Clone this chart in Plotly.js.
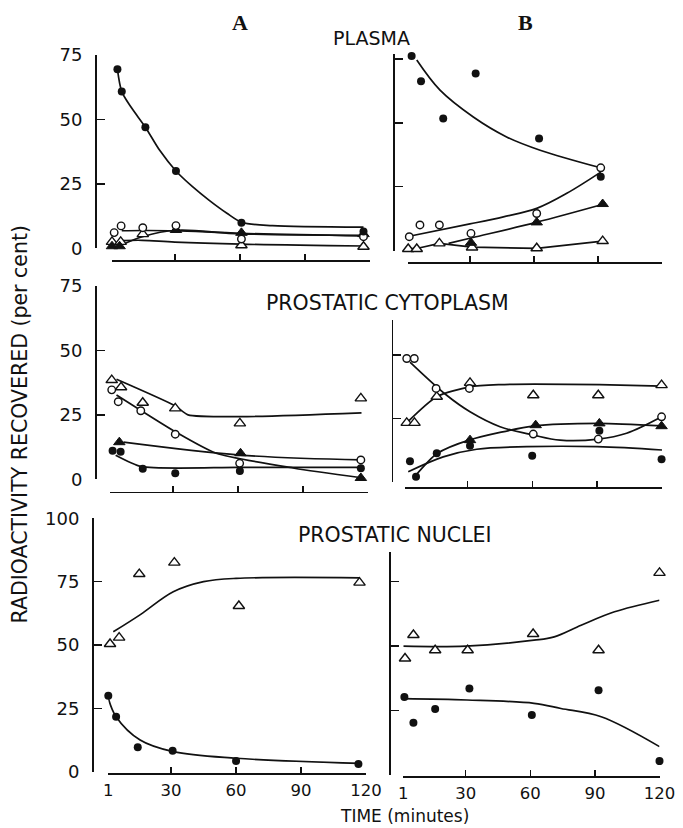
<!DOCTYPE html>
<html><head><meta charset="utf-8">
<script src="https://cdn.plot.ly/plotly-3.0.1.min.js"></script>
<style>html,body{margin:0;padding:0;background:#fff}#chart{width:683px;height:828px}</style>
</head><body><div id="chart"></div>
<script>
// ================= DATA =================
const timeTicks = [1, 30, 60, 90, 120];
const timeTickLabels = ['1', '30', '60', '90', '120'];
const yTicks75 = [0, 25, 50, 75];
const yTicks100 = [0, 25, 50, 75, 100];

// ---- A : PLASMA ----
const aPlasmaClosedCircleT = [3.5, 5.5, 16.4, 30.5, 60.7, 117];
const aPlasmaClosedCircleV = [69.5, 60.8, 47, 30, 9.9, 6.5];
const aPlasmaOpenCircleT = [2, 5.2, 15.2, 30.5, 60.7, 117];
const aPlasmaOpenCircleV = [6.1, 8.7, 8.0, 8.8, 3.6, 4.5];
const aPlasmaOpenTriT = [1, 5, 15.2, 60.7, 117];
const aPlasmaOpenTriV = [2.5, 2.5, 5.5, 1.2, 0.6];
const aPlasmaClosedTriT = [1, 4.5, 30.5, 60.7, 117];
const aPlasmaClosedTriV = [0.8, 0.8, 7.1, 6, 5.5];
const aPlasmaFitClosedCircleT = [3.5, 5.5, 10, 16.4, 23, 30.5, 38, 46, 54, 61, 75, 117];
const aPlasmaFitClosedCircleV = [69.5, 60.8, 54.5, 47, 38, 30, 24, 18.5, 13.6, 10, 8.8, 8.2];
const aPlasmaFitOpenCircleT = [5.5, 15, 30, 60.7, 117];
const aPlasmaFitOpenCircleV = [6.8, 6.9, 6.8, 5.8, 4.8];
const aPlasmaFitClosedTriT = [6, 15, 30.5, 60.7, 117];
const aPlasmaFitClosedTriV = [1.5, 4.5, 7, 5.6, 5];
const aPlasmaFitOpenTriT = [6, 15, 30, 60.7, 117];
const aPlasmaFitOpenTriV = [3, 3.1, 2.4, 1.6, 0.9];

// ---- A : PROSTATIC CYTOPLASM ----
const aCytoOpenTriT = [1.8, 6.1, 16.1, 31.1, 60.9, 116.7];
const aCytoOpenTriV = [38.5, 35.7, 29.7, 27.5, 21.7, 31.4];
const aCytoOpenCircleT = [1.8, 4.8, 15.2, 31.1, 60.8, 116.7];
const aCytoOpenCircleV = [34.7, 30.1, 26.6, 17.5, 6.2, 7.5];
const aCytoClosedTriT = [5.3, 61.2, 116.7];
const aCytoClosedTriV = [14.4, 10.1, 0.5];
const aCytoClosedCircleT = [2.2, 5.9, 16.1, 31.1, 60.9, 116.7];
const aCytoClosedCircleV = [11.1, 10.7, 4.1, 2.3, 3.2, 4.3];
const aCytoFitOpenTriT = [4, 31, 37, 61, 117];
const aCytoFitOpenTriV = [38.8, 28.5, 25, 24.3, 25.8];
const aCytoFitOpenCircleT = [4, 31, 50, 86, 117];
const aCytoFitOpenCircleV = [32.7, 18.5, 10.1, 4.3, 0.6];
const aCytoFitClosedTriT = [7.2, 61, 117];
const aCytoFitClosedTriV = [14.4, 9.4, 7.5];
const aCytoFitClosedCircleT = [3.6, 15.5, 60, 117];
const aCytoFitClosedCircleV = [9.3, 4.9, 4.6, 4.6];

// ---- A : PROSTATIC NUCLEI ----
const aNucOpenTriT = [1.8, 6, 15.3, 31.5, 61.3, 117];
const aNucOpenTriV = [50.4, 52.9, 78, 82.5, 65.4, 74.6];
const aNucClosedCircleT = [1, 4.6, 14.6, 30.7, 60, 116.5];
const aNucClosedCircleV = [30, 21.7, 9.6, 8.3, 4.2, 3.0];
const aNucFitOpenTriT = [3.3, 15.8, 31, 45, 60, 117];
const aNucFitOpenTriV = [55.2, 62, 71, 75, 76.3, 76.5];
const aNucFitClosedCircleT = [1, 4.6, 15.7, 31, 60, 117];
const aNucFitClosedCircleV = [29, 21.7, 12.5, 7.9, 5.3, 3.3];

// ---- B : PLASMA ----
const bPlasmaClosedCircleT = [2.7, 7.1, 17.5, 32.7, 62.4, 91.3];
const bPlasmaClosedCircleV = [76.2, 66.3, 51.7, 69.3, 43.9, 28.9];
const bPlasmaOpenCircleT = [1.6, 6.6, 15.7, 30.5, 61.3, 91.3];
const bPlasmaOpenCircleV = [5.4, 10, 10, 6.7, 14.5, 32.4];
const bPlasmaClosedTriT = [30.5, 61.3, 92.2];
const bPlasmaClosedTriV = [3, 11, 18.2];
const bPlasmaOpenTriT = [1.1, 5.1, 15.7, 31, 61.3, 92.2];
const bPlasmaOpenTriV = [0.6, 0.6, 2.8, 1.2, 0.9, 3.7];
const bPlasmaFitClosedCircleT = [5.1, 16, 31.6, 47.2, 62.9, 91.3];
const bPlasmaFitClosedCircleV = [74.6, 62.8, 52.3, 44.5, 39.3, 32.4];
const bPlasmaFitOpenCircleT = [1.6, 30, 45.7, 61.3, 75.4, 91.3];
const bPlasmaFitOpenCircleV = [5.6, 10.4, 13.2, 16.5, 22.4, 30.7];
const bPlasmaFitClosedTriT = [20, 31, 61, 92];
const bPlasmaFitClosedTriV = [2.8, 5, 11, 18];
const bPlasmaFitOpenTriT = [1.1, 5.1, 15.7, 31, 61.3, 92.2];
const bPlasmaFitOpenTriV = [0.6, 0.8, 2.8, 1.3, 0.8, 3.7];

// ---- B : PROSTATIC CYTOPLASM ----
const bCytoOpenCircleT = [1.8, 5.3, 15.4, 30.8, 60.4, 90.5, 119.8];
const bCytoOpenCircleV = [48.6, 48.6, 36.8, 36.8, 18.8, 16.8, 25.6];
const bCytoOpenTriT = [1.8, 5.4, 15.7, 31.1, 60.4, 90.5, 119.8];
const bCytoOpenTriV = [23.2, 23.2, 33.5, 39, 34.1, 34.1, 38.1];
const bCytoClosedTriT = [31.1, 61.5, 91, 119.8];
const bCytoClosedTriV = [16.4, 22.3, 23, 21.9];
const bCytoClosedCircleT = [3.3, 6.1, 15.7, 31.1, 59.9, 91, 119.8];
const bCytoClosedCircleV = [8.1, 2, 11.2, 14.2, 10.2, 20.1, 8.9];
const bCytoFitOpenCircleT = [3.3, 20.3, 31.1, 45, 60.4, 72.8, 90.5, 103.6, 119.8];
const bCytoFitOpenCircleV = [47.2, 34.1, 27.6, 21.7, 18.4, 16.4, 16.8, 19.1, 25.6];
const bCytoFitOpenTriT = [1.8, 15.7, 31, 45, 61, 91, 120];
const bCytoFitOpenTriV = [23.2, 33.5, 37.4, 38.3, 38.5, 38.3, 37.7];
const bCytoFitClosedTriT = [6, 15.7, 31, 61, 91, 120];
const bCytoFitClosedTriV = [2.5, 11, 16.5, 22, 23, 22];
const bCytoFitClosedCircleT = [2.5, 18.7, 34.2, 57.3, 90, 120];
const bCytoFitClosedCircleV = [3.9, 9.8, 12.8, 13.8, 13.8, 12.5];

// ---- B : PROSTATIC NUCLEI ----
const bNucOpenTriT = [1.8, 5.7, 15.8, 30.9, 61.3, 91.7, 120];
const bNucOpenTriV = [45.2, 54.3, 48.4, 48.4, 54.7, 48.4, 78.4];
const bNucClosedCircleT = [1.5, 5.7, 15.8, 31.7, 60.7, 91.7, 120];
const bNucClosedCircleV = [30.3, 20.3, 25.6, 33.6, 23.3, 32.9, 5.4];
const bNucFitOpenTriT = [1, 30, 61.7, 71.1, 83.6, 99.1, 120];
const bNucFitOpenTriV = [50, 50, 52.3, 53.6, 58.1, 63.3, 67.8];
const bNucFitClosedCircleT = [1, 30.6, 61.7, 74.2, 92.9, 120];
const bNucFitClosedCircleV = [29.6, 29.1, 27.8, 25.8, 22.6, 11];

// ================= STYLE / LAYOUT =================
const W = 683, H = 828;
const FONT = 'DejaVu Sans, sans-serif';
const INK = '#111';
const px = x => x / W;
const py = y => (H - y) / H;

const STY = {
  closedCircle: {symbol: 'circle', size: 8, color: INK, line: {width: 0}},
  openCircle: {symbol: 'circle', size: 7.5, color: '#fff', line: {color: INK, width: 1.4}},
  openTri: {symbol: 'triangle-up', size: 10, color: '#fff', line: {color: INK, width: 1.4}},
  closedTri: {symbol: 'triangle-up', size: 10, color: INK, line: {color: INK, width: 1}}
};

const traces = [];
function fit(t, v, ax, smoothing) {
  traces.push({x: t, y: v, xaxis: 'x' + ax, yaxis: 'y' + ax, mode: 'lines', type: 'scatter',
    line: {color: INK, width: 1.7, shape: 'spline', smoothing: smoothing === undefined ? 1 : smoothing},
    hoverinfo: 'skip', showlegend: false});
}
function pts(t, v, ax, sty) {
  traces.push({x: t, y: v, xaxis: 'x' + ax, yaxis: 'y' + ax, mode: 'markers', type: 'scatter',
    marker: STY[sty], cliponaxis: false, showlegend: false});
}

// panel 1: A plasma
fit(aPlasmaFitClosedCircleT, aPlasmaFitClosedCircleV, '', 0.8);
fit(aPlasmaFitOpenCircleT, aPlasmaFitOpenCircleV, '');
fit(aPlasmaFitClosedTriT, aPlasmaFitClosedTriV, '');
fit(aPlasmaFitOpenTriT, aPlasmaFitOpenTriV, '');
pts(aPlasmaOpenTriT, aPlasmaOpenTriV, '', 'openTri');
pts(aPlasmaClosedTriT, aPlasmaClosedTriV, '', 'closedTri');
pts(aPlasmaOpenCircleT, aPlasmaOpenCircleV, '', 'openCircle');
pts(aPlasmaClosedCircleT, aPlasmaClosedCircleV, '', 'closedCircle');
// panel 2: A cytoplasm
fit(aCytoFitOpenTriT, aCytoFitOpenTriV, '2', 0.6);
fit(aCytoFitOpenCircleT, aCytoFitOpenCircleV, '2', 0.6);
fit(aCytoFitClosedTriT, aCytoFitClosedTriV, '2');
fit(aCytoFitClosedCircleT, aCytoFitClosedCircleV, '2', 0.6);
pts(aCytoOpenTriT, aCytoOpenTriV, '2', 'openTri');
pts(aCytoOpenCircleT, aCytoOpenCircleV, '2', 'openCircle');
pts(aCytoClosedTriT, aCytoClosedTriV, '2', 'closedTri');
pts(aCytoClosedCircleT, aCytoClosedCircleV, '2', 'closedCircle');
// panel 3: A nuclei
fit(aNucFitOpenTriT, aNucFitOpenTriV, '3');
fit(aNucFitClosedCircleT, aNucFitClosedCircleV, '3');
pts(aNucOpenTriT, aNucOpenTriV, '3', 'openTri');
pts(aNucClosedCircleT, aNucClosedCircleV, '3', 'closedCircle');
// panel 4: B plasma
fit(bPlasmaFitClosedCircleT, bPlasmaFitClosedCircleV, '4');
fit(bPlasmaFitOpenCircleT, bPlasmaFitOpenCircleV, '4');
fit(bPlasmaFitClosedTriT, bPlasmaFitClosedTriV, '4');
fit(bPlasmaFitOpenTriT, bPlasmaFitOpenTriV, '4', 0);
pts(bPlasmaOpenTriT, bPlasmaOpenTriV, '4', 'openTri');
pts(bPlasmaClosedTriT, bPlasmaClosedTriV, '4', 'closedTri');
pts(bPlasmaOpenCircleT, bPlasmaOpenCircleV, '4', 'openCircle');
pts(bPlasmaClosedCircleT, bPlasmaClosedCircleV, '4', 'closedCircle');
// panel 5: B cytoplasm
fit(bCytoFitOpenCircleT, bCytoFitOpenCircleV, '5');
fit(bCytoFitOpenTriT, bCytoFitOpenTriV, '5', 0.7);
fit(bCytoFitClosedTriT, bCytoFitClosedTriV, '5', 0.7);
fit(bCytoFitClosedCircleT, bCytoFitClosedCircleV, '5');
pts(bCytoOpenTriT, bCytoOpenTriV, '5', 'openTri');
pts(bCytoOpenCircleT, bCytoOpenCircleV, '5', 'openCircle');
pts(bCytoClosedTriT, bCytoClosedTriV, '5', 'closedTri');
pts(bCytoClosedCircleT, bCytoClosedCircleV, '5', 'closedCircle');
// panel 6: B nuclei
fit(bNucFitOpenTriT, bNucFitOpenTriV, '6');
fit(bNucFitClosedCircleT, bNucFitClosedCircleV, '6');
pts(bNucOpenTriT, bNucOpenTriV, '6', 'openTri');
pts(bNucClosedCircleT, bNucClosedCircleV, '6', 'closedCircle');

function xAx(x0, x1, yLine, labels) {
  return {domain: [px(x0), px(x1)], range: [1, 120], anchor: 'free', position: py(yLine),
    showline: true, linecolor: INK, linewidth: 1.5, ticks: 'inside', ticklen: 6, tickwidth: 1.5,
    tickcolor: INK, tickvals: timeTicks, ticktext: timeTickLabels, showticklabels: labels,
    ticklabelstandoff: 2, tickfont: {family: FONT, size: 16.5, color: INK},
    showgrid: false, zeroline: false, fixedrange: true};
}
function yAx(yBottom, yTop, top, xLine, ticks, labels) {
  return {domain: [py(yBottom), py(yTop)], range: [0, top], anchor: 'free', position: px(xLine),
    showline: true, linecolor: INK, linewidth: 1.5, ticks: 'inside', ticklen: 8, tickwidth: 1.5,
    tickcolor: INK, tickvals: ticks, showticklabels: labels, ticklabelstandoff: 9,
    tickfont: {family: FONT, size: 18, color: INK},
    showgrid: false, zeroline: false, fixedrange: true};
}

function ann(text, x, y, size, family, extra) {
  return Object.assign({text: text, x: px(x), y: py(y), xref: 'paper', yref: 'paper',
    xanchor: 'center', yanchor: 'middle', showarrow: false,
    font: {family: family || FONT, size: size, color: INK}}, extra || {});
}

const layout = {
  width: W, height: H, margin: {l: 0, r: 0, t: 0, b: 0},
  paper_bgcolor: '#fff', plot_bgcolor: 'rgba(0,0,0,0)', showlegend: false,
  font: {family: FONT, color: INK},
  xaxis: xAx(112, 370, 260, false),
  yaxis: yAx(248.3, 55, 75, 95, yTicks75, true),
  xaxis2: xAx(110, 368, 491.7, false),
  yaxis2: yAx(479.3, 286, 75, 95, yTicks75, true),
  xaxis3: xAx(108.3, 366, 773, true),
  yaxis3: yAx(771.7, 518.3, 100, 92, yTicks100, true),
  xaxis4: xAx(408, 662, 262, false),
  yaxis4: yAx(250.5, 54.2, 76.9, 393, yTicks75, false),
  xaxis5: xAx(405, 662, 487, false),
  yaxis5: yAx(481.7, 320, 63.8, 391.7, [0, 25, 50], false),
  xaxis6: xAx(403.3, 659.5, 776, true),
  yaxis6: yAx(775, 552, 86.5, 389, yTicks75, false),
  annotations: [
    ann('<b>A</b>', 240, 22, 22, 'Liberation Serif, serif'),
    ann('<b>B</b>', 525, 22, 22, 'Liberation Serif, serif'),
    ann('PLASMA', 371, 38, 19),
    ann('PROSTATIC CYTOPLASM', 387.5, 303.5, 20.5),
    ann('PROSTATIC NUCLEI', 394.5, 535, 20.5),
    ann('TIME (minutes)', 404, 816, 17),
    ann('RADIOACTIVITY RECOVERED (per cent)', 19.5, 425, 20.5, FONT, {textangle: -90})
  ]
};

Plotly.newPlot('chart', traces, layout, {staticPlot: true, displayModeBar: false});
</script>
</body></html>
